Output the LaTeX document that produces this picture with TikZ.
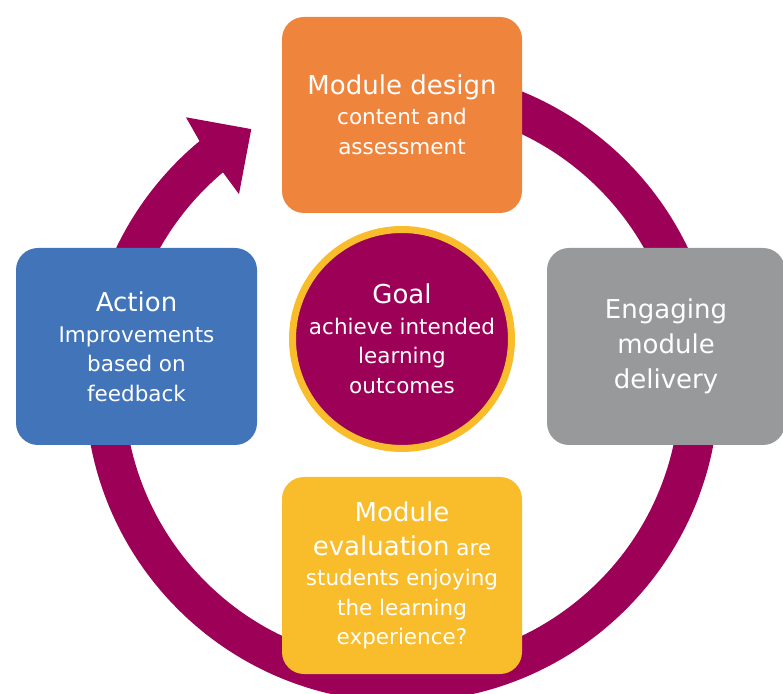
\documentclass[tikz,border=0pt]{standalone}
\usepackage{fontspec}
\setmainfont{DejaVu Sans}
\usetikzlibrary{calc}

\definecolor{ringred}{HTML}{9D0057}
\definecolor{designorange}{HTML}{EF843C}
\definecolor{actionblue}{HTML}{4174B8}
\definecolor{deliverygrey}{HTML}{97999B}
\definecolor{evalyellow}{HTML}{F9BC2B}

\newcommand{\titlefont}{\fontsize{26}{31}\selectfont}
\newcommand{\bodyfont}{\fontsize{21.5}{29.5}\selectfont}

\begin{document}
\begin{tikzpicture}[
  x=1pt, y=1pt,
  stage/.style={rounded corners=22pt, minimum width=240pt, minimum height=196pt, inner sep=0pt, align=center, text=white, font=\bodyfont},
  hub/.style={circle, fill=ringred, draw=evalyellow, line width=7pt, minimum size=219pt, inner sep=0pt, align=center, text=white, font=\bodyfont}
]
  \useasboundingbox (0,0) rectangle (783,693);
  \clip (0,0) rectangle (783,693);
  \coordinate (ringc) at (402,308);

  % cycle ring, arrow head at the upper left
  \fill[ringred] ($(ringc)+(90:317)$) arc[start angle=90, end angle=-230.3, radius=317]
    -- ($(ringc)+(-231.1:344)$) -- ($(ringc)+(-239.5:297)$) -- ($(ringc)+(-229.5:251)$)
    -- ($(ringc)+(-229.9:278)$) arc[start angle=-229.9, end angle=90, radius=278] -- cycle;

  \node[stage, fill=designorange] (design) at (402,578) {{\titlefont Module design}\\[0.5pt]content and\\assessment};
  \node[stage, fill=actionblue, minimum width=241pt, minimum height=197pt] (action) at (136.5,346.5) {{\titlefont Action}\\[1.5pt]Improvements\\based on\\feedback};
  \node[stage, fill=deliverygrey, minimum width=238pt, minimum height=197pt, font=\fontsize{26}{35}\selectfont] (delivery) at (666,346.5) {Engaging\\module\\delivery};
  \node[stage, fill=evalyellow, minimum height=197pt] (evaluation) at (402,117.5) {{\titlefont Module}\\[4.5pt]{\titlefont evaluation} are\\[0.5pt]students enjoying\\the learning\\experience?};

  \node[hub] (goal) at (402,354) {{\titlefont Goal}\\[1pt]achieve intended\\learning\\outcomes};
\end{tikzpicture}
\end{document}
